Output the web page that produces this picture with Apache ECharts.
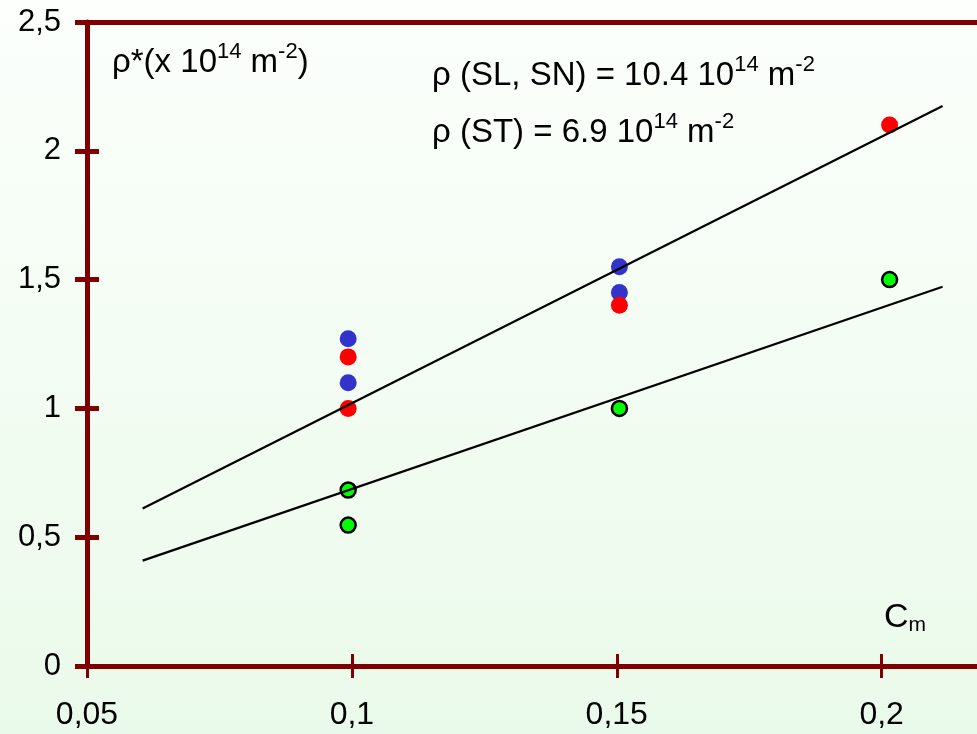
<!DOCTYPE html>
<html>
<head>
<meta charset="utf-8">
<script src="https://cdn.jsdelivr.net/npm/echarts@6/dist/echarts.min.js"></script>
<style>
html,body{margin:0;padding:0;}
#c{width:977px;height:734px;}
</style>
</head>
<body>
<div id="c"></div>
<script>
// Data
var xTicks = [0.05, 0.1, 0.15, 0.2];
var yTicks = [0, 0.5, 1, 1.5, 2, 2.5];
var blueSeries = [[0.0993, 1.27], [0.0993, 1.10], [0.1505, 1.55], [0.1505, 1.45]];
var redSeries = [[0.0993, 1.20], [0.0993, 1.00], [0.1505, 1.40], [0.2015, 2.10]];
var greenSeries = [[0.0993, 0.683], [0.0993, 0.547], [0.1505, 1.00], [0.2015, 1.50]];
var fitSLSN = [[0.0605, 0.611], [0.2115, 2.174]];
var fitST = [[0.0605, 0.409], [0.2115, 1.472]];

var FONT = '"Liberation Sans", Arial, sans-serif';
var AXIS = '#800000';
function fmt(v){ return String(v).replace('.', ','); }

var chart = echarts.init(document.getElementById('c'), null, {renderer:'canvas'});
var baseX = {type:'value', min:0.05, max:0.218, interval:0.05, position:'bottom', splitLine:{show:false}};
var baseY = {type:'value', min:0, max:2.5, interval:0.5, position:'left', splitLine:{show:false}};

var sup = {fontSize:22, fontFamily:FONT, color:'#000', verticalAlign:'top', lineHeight:20};

function annot(left, centerY, text){
  return {type:'text', left:left, top:centerY-22, z:10, style:{
    text:text, font:'33px '+FONT, fill:'#000', lineHeight:44,
    rich:{s:sup}
  }};
}

chart.setOption({
  animation:false,
  backgroundColor: new echarts.graphic.LinearGradient(0,0,0,1,[{offset:0,color:'#fcfffc'},{offset:1,color:'#eafaea'}]),
  grid:{left:87, right:0, top:22, bottom:68, containLabel:false},
  xAxis:[
    Object.assign({}, baseX, {
      axisLine:{show:true, onZero:false, lineStyle:{color:AXIS, width:5}},
      axisTick:{show:true, inside:false, length:12, lineStyle:{color:AXIS, width:3}, customValues:xTicks},
      axisLabel:{show:true, margin:33, fontSize:32, fontFamily:FONT, color:'#000', formatter:fmt, customValues:xTicks}
    }),
    Object.assign({}, baseX, {
      axisLine:{show:false},
      axisTick:{show:true, inside:true, length:12, lineStyle:{color:AXIS, width:3}, customValues:xTicks},
      axisLabel:{show:false}
    }),
    Object.assign({}, baseX, {position:'top',
      axisLine:{show:true, onZero:false, lineStyle:{color:AXIS, width:5}},
      axisTick:{show:false}, axisLabel:{show:false}
    })
  ],
  yAxis:[
    Object.assign({}, baseY, {
      axisLine:{show:true, onZero:false, lineStyle:{color:AXIS, width:5}},
      axisTick:{show:true, inside:false, length:12, lineStyle:{color:AXIS, width:5}},
      axisLabel:{show:true, margin:26, fontSize:31, fontFamily:FONT, color:'#000', formatter:fmt}
    }),
    Object.assign({}, baseY, {
      axisLine:{show:false},
      axisTick:{show:true, inside:true, length:12, lineStyle:{color:AXIS, width:5}},
      axisLabel:{show:false}
    })
  ],
  series:[
    {type:'scatter', data:blueSeries, symbolSize:17, itemStyle:{color:'#3333cc', opacity:1}, z:2},
    {type:'scatter', data:redSeries, symbolSize:17, itemStyle:{color:'#ff0000', opacity:1}, z:2},
    {type:'scatter', data:greenSeries, symbolSize:15, itemStyle:{color:'#00ff00', borderColor:'#000', borderWidth:2.5, opacity:1}, z:2},
    {type:'line', data:fitSLSN, showSymbol:false, symbol:'none', lineStyle:{color:'#000', width:2.2}, z:3},
    {type:'line', data:fitST, showSymbol:false, symbol:'none', lineStyle:{color:'#000', width:2.2}, z:3}
  ],
  graphic:[
    annot(112, 63, 'ρ*(x 10{s|14} m{s|-2})'),
    annot(432, 76, 'ρ (SL, SN) = 10.4 10{s|14} m{s|-2}'),
    annot(432, 133, 'ρ (ST) = 6.9 10{s|14} m{s|-2}'),
    {type:'text', left:884, top:600, z:10, style:{
      text:'C{b|m}', font:'34px '+FONT, fill:'#000', lineHeight:36,
      rich:{b:{fontSize:21, fontFamily:FONT, color:'#000', verticalAlign:'bottom', lineHeight:16}}
    }}
  ]
});
</script>
</body>
</html>
